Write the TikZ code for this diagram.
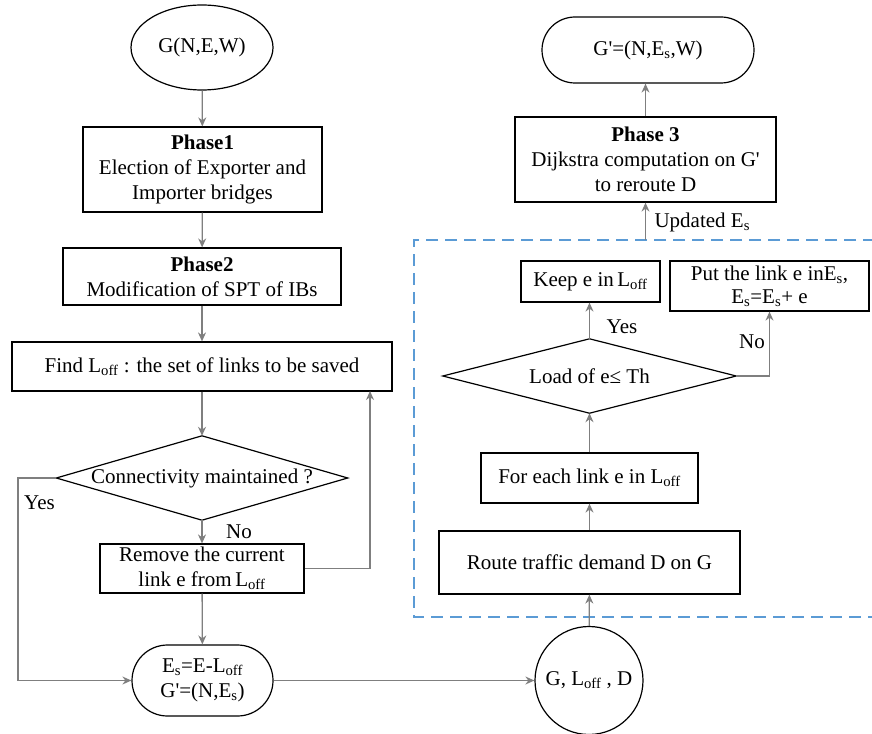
\documentclass[tikz,border=0pt]{standalone}
\usepackage{fontspec}
\setmainfont{Liberation Serif}
\usepackage{xcolor}
\usepackage{tikz}
\usetikzlibrary{shapes.geometric,shapes.misc,arrows.meta}
\definecolor{GR}{HTML}{7F7F7F}
\definecolor{BL}{HTML}{5B9BD5}
\newcommand{\Loff}{L\textsubscript{off}}
\newcommand{\Es}{E\textsubscript{s}}
\newcommand{\Gp}{G\textquotesingle}
\tikzset{%
  txt/.style={font=\fontsize{21}{25}\selectfont, align=center},
  procbox/.style={txt, draw, line width=1.2pt, inner sep=1pt},
  termbox/.style={procbox, rounded rectangle},
  decide/.style={txt, inner sep=0pt},
  flow/.style={draw=GR, line width=1.3pt, -{Stealth[length=9pt,width=8pt]}},
  frame/.style={draw=BL, line width=1.5pt, dash pattern=on 12pt off 7pt},
}

\begin{document}
\begin{tikzpicture}[x=1pt, y=-1pt]%
\useasboundingbox (0,0) rectangle (872,733);%
% left column
\node[procbox, ellipse, inner sep=0pt, minimum width=142pt, minimum height=85pt] (gnet) at (202.000000, 47.500000) {G(N,E,W)};%
\node[procbox, minimum width=239pt, minimum height=85pt] (phaseone) at (202.500000, 169.500000) {\textbf{Phase1}\\Election of Exporter and\\Importer bridges};%
\node[procbox, minimum width=278pt, minimum height=57pt] (phasetwo) at (202.000000, 276.500000) {\textbf{Phase2}\\Modification of SPT of IBs};%
\node[procbox, minimum width=380pt, minimum height=49pt] (findoff) at (202.000000, 366.500000) {Find \Loff\ : the set of links to be saved};%
\node[decide, minimum width=291pt, minimum height=84pt] (conn) at (202.000000, 478.000000) {Connectivity maintained ?};%
\draw[line width=1.2pt] (conn.west) -- (conn.north) -- (conn.east) -- (conn.south) -- cycle;%
\node[procbox, minimum width=204pt, minimum height=49pt] (remove) at (202.000000, 568.500000) {Remove the current\\link e from\,\Loff};%
\node[termbox, minimum width=143pt, minimum height=71pt] (esnew) at (202.500000, 680.500000) {\Es=E-\Loff\\\Gp=(N,\Es)};%
\node[txt] (yesl) at (39.500000, 503.000000) {Yes};%
\node[txt] (nol) at (239.000000, 532.000000) {No};%
\coordinate (yesbend) at (18.000000, 478.000000);%
\coordinate (back) at (370.000000, 391.000000);%
% right column
\node[procbox, circle, inner sep=0pt, minimum size=108pt] (gld) at (589.000000, 680.500000) {G, \Loff\ , D};%
\node[procbox, minimum width=301pt, minimum height=63pt] (route) at (589.500000, 562.500000) {Route traffic demand D on G};%
\node[procbox, minimum width=217pt, minimum height=50pt] (foreach) at (589.500000, 478.000000) {For each link e in \Loff};%
\node[decide, minimum width=293pt, minimum height=74pt] (load) at (589.500000, 376.000000) {Load of e≤ Th};%
\draw[line width=1.2pt] (load.west) -- (load.north) -- (load.east) -- (load.south) -- cycle;%
\node[procbox, minimum width=139pt, minimum height=41pt] (keep) at (590.500000, 281.500000) {Keep e in\,\Loff};%
\node[procbox, minimum width=199pt, minimum height=50pt, font=\fontsize{21}{23}\selectfont] (put) at (769.500000, 286.000000) {Put the link e in\Es,\\\Es=\Es+ e};%
\node[txt] (yesr) at (622.000000, 327.000000) {Yes};%
\node[txt] (nor) at (752.000000, 342.000000) {No};%
\draw[frame] (875.000000, 240.000000) -- (414.000000, 240.000000) -- (414.000000, 617.000000) -- (875.000000, 617.000000);%
\coordinate (upd) at (645.500000, 240.000000);%
\node[procbox, minimum width=261pt, minimum height=85pt] (phasethree) at (645.500000, 159.500000) {\textbf{Phase 3}\\Dijkstra computation on \Gp\\to reroute D};%
\node[termbox, minimum width=214pt, minimum height=66pt] (gprime) at (648.000000, 50.000000) {\Gp=(N,\Es,W)};%
\node[txt, anchor=west] (updl) at (651.000000, 222.000000) {Updated \Es};%
% connectors
\draw[flow] (gnet) -- (phaseone);%
\draw[flow] (phaseone) -- (phasetwo);%
\draw[flow] (phasetwo) -- (findoff);%
\draw[flow] (findoff) -- (conn.north);%
\draw[flow] (conn.south) -- (remove);%
\draw[flow] (remove.east) -| (back);%
\draw[flow] (conn.west) -- (yesbend) |- (esnew.west);%
\draw[flow] (remove) -- (esnew);%
\draw[flow] (esnew.east) -- (gld.west);%
\draw[flow] (gld) -- (route);%
\draw[flow] (route) -- (foreach);%
\draw[flow] (foreach) -- (load.south);%
\draw[flow] (load.north) -- (load.north |- keep.south);%
\draw[flow] (load.east) -| (put.south);%
\draw[flow] (upd) -- (phasethree);%
\draw[flow] (phasethree.north) -- (phasethree.north |- gprime.south);%
\end{tikzpicture}
\end{document}
